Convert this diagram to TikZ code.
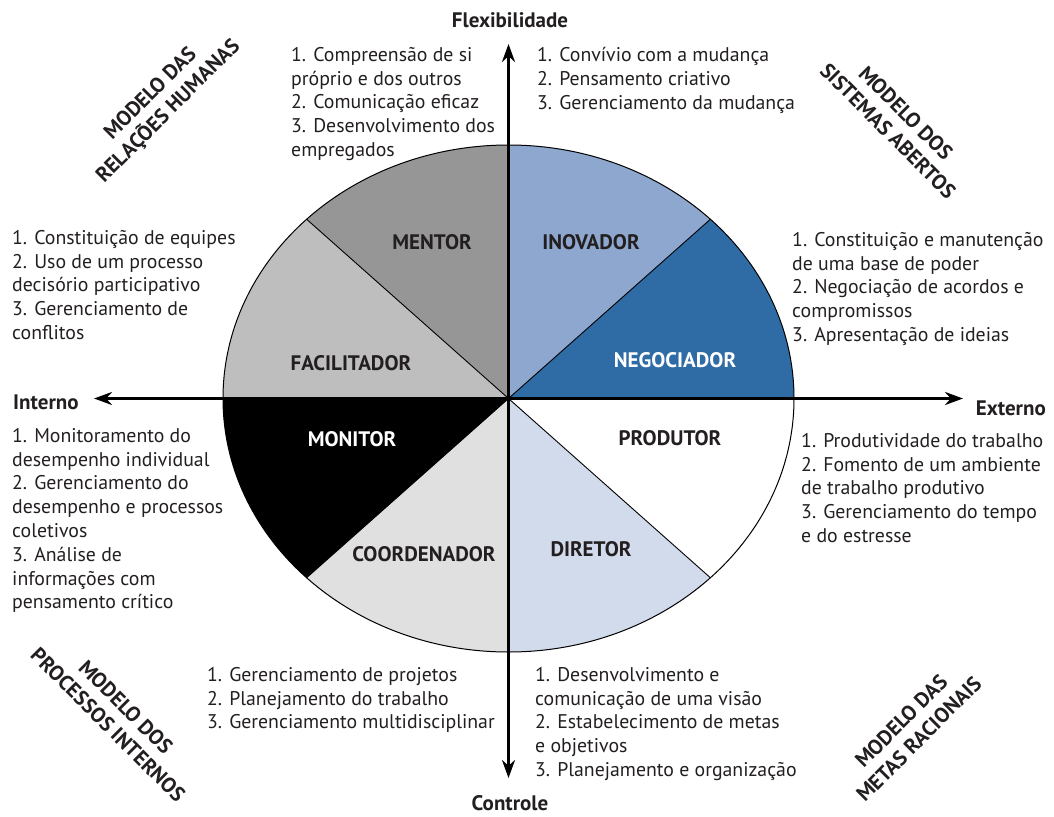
\documentclass[tikz,border=0pt]{standalone}
\usepackage{fontspec}
\setmainfont{PT Sans}
\usetikzlibrary{arrows.meta}
\definecolor{txt}{RGB}{35,31,32}
\definecolor{negblue}{RGB}{47,108,166}
\definecolor{inovblue}{RGB}{141,167,206}
\definecolor{diretorblue}{RGB}{210,219,235}
\definecolor{mentorgray}{RGB}{150,150,150}
\definecolor{facgray}{RGB}{190,190,190}
\definecolor{coordgray}{RGB}{224,224,224}

\begin{document}
\begin{tikzpicture}[x=1pt,y=-1pt,
  lista/.style={anchor=north west,align=left,inner sep=0pt,text=txt,font=\fontsize{19.8}{23.8}\selectfont},
  papel/.style={inner sep=0pt,text=txt,font=\bfseries\fontsize{21}{24}\selectfont},
  modelo/.style={inner sep=0pt,align=center,text=txt,font=\bfseries\fontsize{21}{25}\selectfont},
  eixo/.style={line width=3pt,{Stealth[length=18pt,width=13pt]}-{Stealth[length=18pt,width=13pt]}}]
\useasboundingbox (0,0) rectangle (1054,816);
\coordinate (c) at (508.5,398.5);
\foreach \a/\cor in {0/white,45/diretorblue,90/coordgray,135/black,180/facgray,225/mentorgray,270/inovblue,315/negblue}
  \fill[\cor] (c) -- ++(\a:285.5 and 253.5) arc[start angle=\a,delta angle=45,x radius=285.5,y radius=253.5] -- cycle;
\foreach \a in {45,135,225,315}
  \draw[line width=0.9pt] (c) -- ++(\a:285.5 and 253.5);
\draw[line width=1pt] (c) ellipse[x radius=285.5,y radius=253.5];

\coordinate (norte) at (508.5,44);
\coordinate (sul) at (508.5,778);
\coordinate (oeste) at (94,398.5);
\coordinate (leste) at (963,398.5);
\draw[eixo] (sul) -- (norte);
\draw[eixo] (oeste) -- (leste);

\node[papel] (flex) at (510,20) {Flexibilidade};
\node[papel] (controle) at (510,803) {Controle};
\node[papel,anchor=west] (interno) at (13,402) {Interno};
\node[papel,anchor=east] (externo) at (1046,408) {Externo};

\node[papel] (mentor) at (432,242) {MENTOR};
\node[papel] (inovador) at (591,242) {INOVADOR};
\node[papel] (facilitador) at (351,363) {FACILITADOR};
\node[papel,text=white] (negociador) at (675,360) {NEGOCIADOR};
\node[papel,text=white] (monitor) at (352,439) {MONITOR};
\node[papel] (produtor) at (670,438) {PRODUTOR};
\node[papel] (coordenador) at (424,554) {COORDENADOR};
\node[papel] (diretor) at (591,549) {DIRETOR};

\node[lista] (lmentor) at (291,47) {1. Compreensão de si\\próprio e dos outros\\2. Comunicação eficaz\\3. Desenvolvimento dos\\empregados};
\node[lista] (linovador) at (537,47) {1. Convívio com a mudança\\2. Pensamento criativo\\3. Gerenciamento da mudança};
\node[lista] (lfacilitador) at (12,230) {1. Constituição de equipes\\2. Uso de um processo\\decisório participativo\\3. Gerenciamento de\\conflitos};
\node[lista] (lnegociador) at (792,232) {1. Constituição e manutenção\\de uma base de poder\\2. Negociação de acordos e\\compromissos\\3. Apresentação de ideias};
\node[lista] (lmonitor) at (12,428) {1. Monitoramento do\\desempenho individual\\2. Gerenciamento do\\desempenho e processos\\coletivos\\3. Análise de\\informações com\\pensamento crítico};
\node[lista] (lprodutor) at (801,433) {1. Produtividade do trabalho\\2. Fomento de um ambiente\\de trabalho produtivo\\3. Gerenciamento do tempo\\e do estresse};
\node[lista] (lcoordenador) at (207,667) {1. Gerenciamento de projetos\\2. Planejamento do trabalho\\3. Gerenciamento multidisciplinar};
\node[lista] (ldiretor) at (535,667) {1. Desenvolvimento e\\comunicação de uma visão\\2. Estabelecimento de metas\\e objetivos\\3. Planejamento e organização};

\node[modelo,rotate=45] (relhumanas) at (160,103) {MODELO DAS\\RELAÇÕES HUMANAS};
\node[modelo,rotate=-45] (sistabertos) at (897,122) {MODELO DOS\\SISTEMAS ABERTOS};
\node[modelo,rotate=-45] (procinternos) at (117,716) {MODELO DOS\\PROCESSOS INTERNOS};
\node[modelo,rotate=45] (metasracionais) at (910,730) {MODELO DAS\\METAS RACIONAIS};
\end{tikzpicture}
\end{document}
